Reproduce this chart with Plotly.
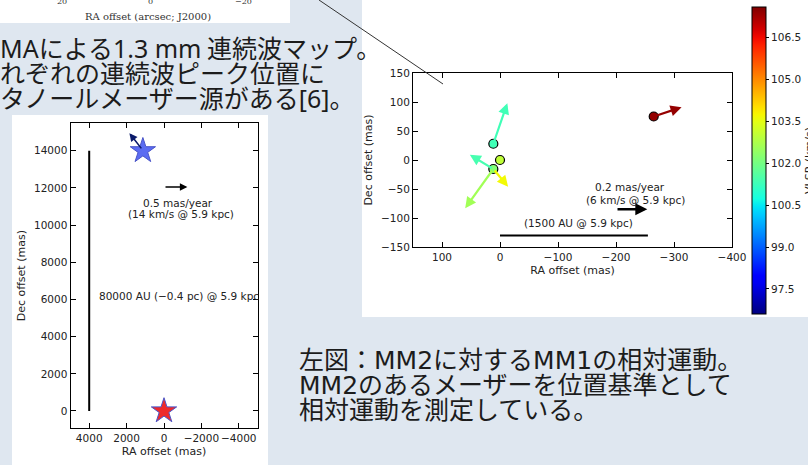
import plotly.graph_objects as go

W, H = 808, 465

# ---------------- data ----------------
# left panel: MM1 / MM2 positions (mas)
star_ra = [1130, 0]
star_dec = [14000, 0]
star_names = ["MM1", "MM2"]
mm1_motion_ra = [1150, 1850]
mm1_motion_dec = [14050, 14950]
scale_bar_ra = [4000, 4000]
scale_bar_dec = [0, 14000]
left_pm_arrow_ra = [0, -1250]
left_pm_arrow_dec = [12050, 12050]
left_ra_ticks = [4000, 2000, 0, -2000, -4000]
left_dec_ticks = [0, 2000, 4000, 6000, 8000, 10000, 12000, 14000]

# right panel: maser spots (mas) and VLSR (km/s)
maser_ra = [-265, 11.5, 0, 11.5]
maser_dec = [75, 28, 0, -15.5]
maser_vlsr = [107.4, 101.3, 103.0, 102.2]
pm_x0 = [-265, 11.5, 11.5, 11.5, 11.5]
pm_y0 = [75, 28, -15.5, -15.5, -15.5]
pm_x1 = [-313, -12.6, 52, -14, 60]
pm_y1 = [91, 98, 9, -46, -83]
pm_vlsr = [107.4, 101.3, 101.4, 103.7, 102.6]
right_pm_arrow_ra = [-200, -254]
right_pm_arrow_dec = [-85, -85]
au_bar_ra = [0, -255]
au_bar_dec = [-130, -130]
right_ra_ticks = [100, 0, -100, -200, -300, -400]
right_dec_ticks = [-150, -100, -50, 0, 50, 100, 150]
cbar_ticks = [97.5, 99.0, 100.5, 102.0, 103.5, 105.0, 106.5]
vmin, vmax = 96.6, 107.6

# ---------------- helpers ----------------
_jet = {
    "r": [(0, 0), (0.35, 0), (0.66, 1), (0.89, 1), (1, 0.5)],
    "g": [(0, 0), (0.125, 0), (0.375, 1), (0.64, 1), (0.91, 0), (1, 0)],
    "b": [(0, 0.5), (0.11, 1), (0.34, 1), (0.65, 0), (1, 0)],
}


def _interp(pts, f):
    for (x0, y0), (x1, y1) in zip(pts[:-1], pts[1:]):
        if x0 <= f <= x1:
            return y0 + (y1 - y0) * (f - x0) / (x1 - x0)
    return pts[-1][1]


def jet_frac(f):
    f = min(max(f, 0), 1)
    return "rgb(%d,%d,%d)" % tuple(round(255 * _interp(_jet[c], f)) for c in "rgb")


def jet_val(v):
    return jet_frac((v - vmin) / (vmax - vmin))


jet_scale = [[i / 40, jet_frac(i / 40)] for i in range(41)]


def px(x):
    return x / W


def py(y):
    return 1 - y / H


def fmt(v):
    return str(v).replace("-", "−")


FONT = "DejaVu Sans"
JP = "Noto Sans CJK JP"
BG = "#dfe7f0"


def lat(t, fam="DejaVu Sans"):
    return '<span style="font-family:%s">%s</span>' % (fam, t)


fig = go.Figure()

# ---------------- left panel traces ----------------
fig.add_trace(go.Scatter(x=scale_bar_ra, y=scale_bar_dec, mode="lines",
                         line=dict(color="black", width=2), xaxis="x", yaxis="y",
                         showlegend=False, hoverinfo="skip"))
fig.add_trace(go.Scatter(x=star_ra, y=star_dec, mode="markers", text=star_names,
                         marker=dict(symbol="star", size=19,
                                     color=["#5b6cf2", "#ee2a2a"],
                                     line=dict(color=["#4a55c8", "#4a55c8"], width=1)),
                         xaxis="x", yaxis="y", showlegend=False))

# ---------------- right panel traces ----------------
fig.add_trace(go.Scatter(x=au_bar_ra, y=au_bar_dec, mode="lines",
                         line=dict(color="black", width=2), xaxis="x2", yaxis="y2",
                         showlegend=False, hoverinfo="skip"))
fig.add_trace(go.Scatter(
    x=maser_ra, y=maser_dec, mode="markers", xaxis="x2", yaxis="y2", showlegend=False,
    marker=dict(size=9, color=maser_vlsr, colorscale=jet_scale, cmin=vmin, cmax=vmax,
                line=dict(color="black", width=1.2),
                showscale=True,
                colorbar=dict(
                    x=px(752), xanchor="left", xref="paper",
                    y=py(160.5), yanchor="middle", yref="paper",
                    len=307, lenmode="pixels", thickness=14, thicknessmode="pixels",
                    xpad=0, ypad=0, outlinewidth=1, outlinecolor="black",
                    tickvals=cbar_ticks, ticktext=["%.1f" % t for t in cbar_ticks],
                    ticks="outside", ticklen=3, tickcolor="black",
                    tickfont=dict(family=FONT, size=10.5, color="#222"),
                    title=dict(text="VLSR (km/s)", side="right",
                               font=dict(family=FONT, size=11, color="#222")),
                ))))

# ---------------- shapes: slide panels & pointer line ----------------
shapes = [
    dict(type="rect", xref="paper", yref="paper", x0=px(0), x1=px(290), y0=py(23), y1=py(0),
         fillcolor="white", line=dict(width=0), layer="below"),
    dict(type="rect", xref="paper", yref="paper", x0=px(12), x1=px(268), y0=py(465), y1=py(115),
         fillcolor="white", line=dict(width=0), layer="below"),
    dict(type="rect", xref="paper", yref="paper", x0=px(362), x1=px(808), y0=py(317), y1=py(0),
         fillcolor="white", line=dict(width=0), layer="below"),
    dict(type="line", xref="paper", yref="paper", x0=px(319), y0=py(0), x1=px(443), y1=py(84),
         line=dict(color="#333", width=1), layer="above"),
]

ann = []
# top-left partial map labels
for t, x in [("20", 62), ("0", 150), ("−20", 243)]:
    ann.append(dict(text=t, x=px(x), y=py(1), xref="paper", yref="paper", showarrow=False,
                    xanchor="center", yanchor="middle",
                    font=dict(family="DejaVu Serif", size=8, color="#333")))
ann.append(dict(text="RA offset (arcsec; J2000)", x=px(148), y=py(16), xref="paper", yref="paper",
                showarrow=False, xanchor="center", yanchor="middle",
                font=dict(family="DejaVu Serif", size=10, color="#333")))

# Japanese slide text
for t, y in [(lat("MA", "Noto Sans") + "による" + lat("1.3 mm", "Noto Sans") + " 連続波マップ。", 47),
             ("れぞれの連続波ピーク位置に", 72),
             ("タノールメーザー源がある" + lat("[6]", "Noto Sans") + "。", 97)]:
    ann.append(dict(text=t, x=px(-2), y=py(y), xref="paper", yref="paper", showarrow=False,
                    xanchor="left", yanchor="middle", font=dict(family=JP, size=25, color="#1c1c1c")))
for t, y in [("左図：" + lat("MM2") + "に対する" + lat("MM1") + "の相対運動。", 358),
             (lat("MM2") + "のあるメーザーを位置基準として", 383),
             ("相対運動を測定している。", 408)]:
    ann.append(dict(text=t, x=px(297), y=py(y), xref="paper", yref="paper", showarrow=False,
                    xanchor="left", yanchor="middle", font=dict(family=JP, size=25, color="#1c1c1c")))

# left panel arrows & labels
ann.append(dict(x=mm1_motion_ra[1], y=mm1_motion_dec[1], ax=mm1_motion_ra[0], ay=mm1_motion_dec[0],
                xref="x", yref="y", axref="x", ayref="y", text="", showarrow=True,
                arrowhead=2, arrowsize=1, arrowwidth=1.6, arrowcolor="#0a1a6a", standoff=0))
ann.append(dict(x=left_pm_arrow_ra[1], y=left_pm_arrow_dec[1], ax=left_pm_arrow_ra[0], ay=left_pm_arrow_dec[0],
                xref="x", yref="y", axref="x", ayref="y", text="", showarrow=True,
                arrowhead=2, arrowsize=1, arrowwidth=1.5, arrowcolor="black", standoff=0))
ann.append(dict(text="0.5 mas/year", x=-750, y=11200, xref="x", yref="y", showarrow=False,
                font=dict(family=FONT, size=10.5, color="#222")))
ann.append(dict(text="(14 km/s @ 5.9 kpc)", x=-900, y=10600, xref="x", yref="y", showarrow=False,
                font=dict(family=FONT, size=10.5, color="#222")))
ann.append(dict(text="80000 AU (−0.4 pc) @ 5.9 kpc", x=3600, y=6200, xref="x", yref="y",
                showarrow=False, xanchor="left",
                font=dict(family=FONT, size=10.5, color="#222")))

# right panel arrows & labels
for i in range(len(pm_x0)):
    ann.append(dict(x=pm_x1[i], y=pm_y1[i], ax=pm_x0[i], ay=pm_y0[i],
                    xref="x2", yref="y2", axref="x2", ayref="y2", text="", showarrow=True,
                    arrowhead=2, arrowsize=1, arrowwidth=2.2, arrowcolor=jet_val(pm_vlsr[i]),
                    standoff=0))
ann.append(dict(x=right_pm_arrow_ra[1], y=right_pm_arrow_dec[1], ax=right_pm_arrow_ra[0],
                ay=right_pm_arrow_dec[0], xref="x2", yref="y2", axref="x2", ayref="y2", text="",
                showarrow=True, arrowhead=2, arrowsize=1, arrowwidth=2.4, arrowcolor="black",
                standoff=0))
ann.append(dict(text="0.2 mas/year", x=-224, y=-47, xref="x2", yref="y2", showarrow=False,
                font=dict(family=FONT, size=10.5, color="#222")))
ann.append(dict(text="(6 km/s @ 5.9 kpc)", x=-234, y=-69, xref="x2", yref="y2", showarrow=False,
                font=dict(family=FONT, size=10.5, color="#222")))
ann.append(dict(text="(1500 AU @ 5.9 kpc)", x=-136, y=-108, xref="x2", yref="y2", showarrow=False,
                font=dict(family=FONT, size=10.5, color="#222")))

axis_common = dict(showgrid=False, zeroline=False, showline=True, linecolor="black", linewidth=1,
                   mirror="ticks", ticks="inside", ticklen=5, tickcolor="black", tickangle=0,
                   automargin=False,
                   tickfont=dict(family=FONT, size=10.5, color="#222"))

fig.update_layout(
    width=W, height=H, margin=dict(l=0, r=0, t=0, b=0, autoexpand=False),
    paper_bgcolor=BG, plot_bgcolor="white", showlegend=False,
    xaxis=dict(domain=[px(70.5), px(257.5)], range=[5000, -5000], tickvals=left_ra_ticks,
               ticktext=[fmt(v) for v in left_ra_ticks],
               anchor="y", title=dict(text="RA offset (mas)", standoff=4,
                                      font=dict(family=FONT, size=11, color="#222")),
               **axis_common),
    yaxis=dict(domain=[py(428), py(123.3)], range=[-915, 15480], tickvals=left_dec_ticks,
               ticktext=[fmt(v) for v in left_dec_ticks],
               anchor="x", title=dict(text="Dec offset (mas)", standoff=6,
                                      font=dict(family=FONT, size=11, color="#222")),
               **axis_common),
    xaxis2=dict(domain=[px(413), px(732)], range=[150, -400], tickvals=right_ra_ticks,
                ticktext=[fmt(v) for v in right_ra_ticks],
                anchor="y2", title=dict(text="RA offset (mas)", standoff=4,
                                        font=dict(family=FONT, size=11, color="#222")),
                **axis_common),
    yaxis2=dict(domain=[py(247), py(73)], range=[-150, 150], tickvals=right_dec_ticks,
                ticktext=[fmt(v) for v in right_dec_ticks],
                anchor="x2", title=dict(text="Dec offset (mas)", standoff=6,
                                        font=dict(family=FONT, size=11, color="#222")),
                **axis_common),
    shapes=shapes, annotations=ann,
)

fig.write_html("out.html", config={"displayModeBar": False},
               post_script="document.body.style.margin='0';document.body.style.overflow='hidden';")
